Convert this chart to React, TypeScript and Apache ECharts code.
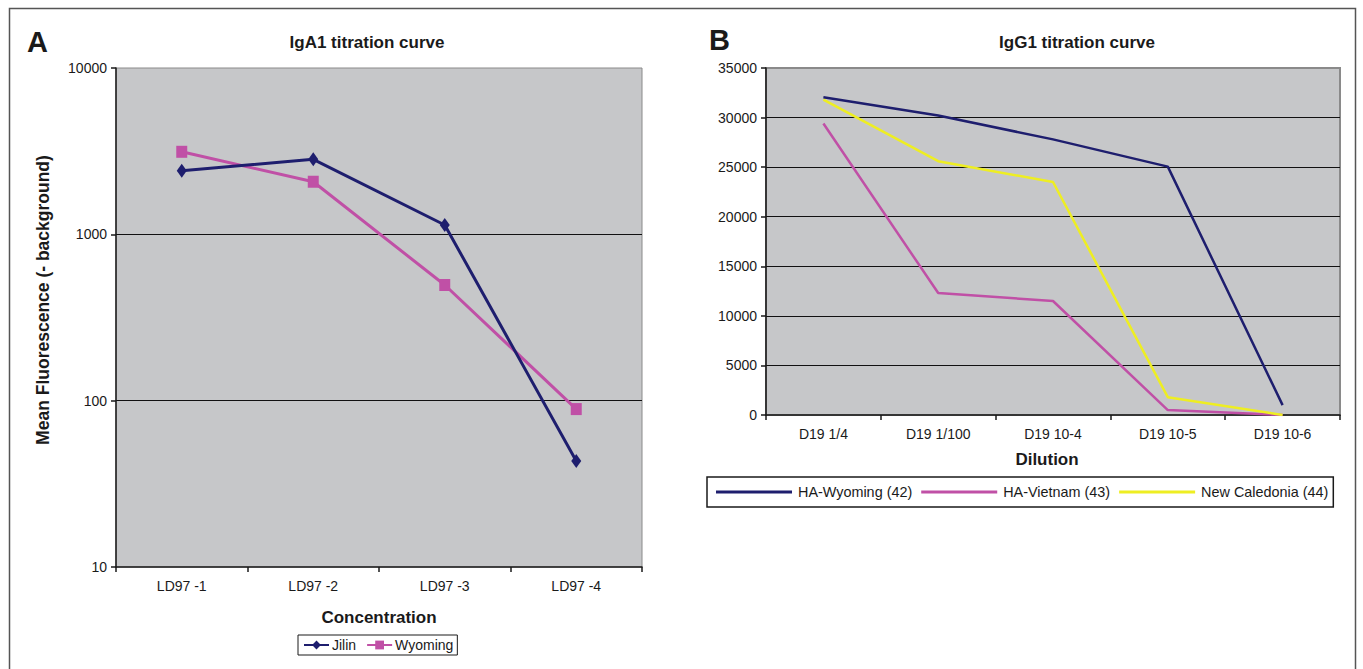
import React, { useEffect, useRef } from "react";
import * as echarts from "echarts";

const categoriesA = ["LD97 -1", "LD97 -2", "LD97 -3", "LD97 -4"];
const jilin = [2410, 2825, 1138, 43.4];
const wyomingA = [3135, 2071, 496, 89];
const yTicksA = [10, 100, 1000, 10000];

const categoriesB = ["D19 1/4", "D19 1/100", "D19 10-4", "D19 10-5", "D19 10-6"];
const haWyoming = [32050, 30200, 27800, 25050, 1000];
const haVietnam = [29400, 12300, 11500, 500, 0];
const newCaledonia = [31800, 25600, 23500, 1800, 0];
const yTicksB = [0, 5000, 10000, 15000, 20000, 25000, 30000, 35000];

const FONT = "'Liberation Sans', Arial, sans-serif";
const NAVY = "#1e1e6e";
const PINK = "#c050a6";
const YELLOW = "#eeee22";
const TXT = "#1a1a1a";

export default function App() {
  const ref = useRef<HTMLDivElement>(null);
  useEffect(() => {
    document.body.style.margin = "0";
    document.body.style.overflow = "hidden";
    const chart = echarts.init(ref.current!, undefined, { renderer: "svg" });
    const axisLine = { show: true, lineStyle: { color: TXT, width: 1.5 } };
    const axisTick = { show: true, length: 5, lineStyle: { color: TXT, width: 1.5 } };
    const label = { color: TXT, fontSize: 14, fontFamily: FONT };
    chart.setOption({
      animation: false,
      textStyle: { fontFamily: FONT },
      grid: [
        { left: 116, top: 68, width: 526, height: 499, show: true, backgroundColor: "#c6c7c9", borderColor: "#8a8a8a", borderWidth: 1 },
        { left: 766, top: 68, width: 574, height: 347, show: true, backgroundColor: "#c6c7c9", borderColor: "#8a8a8a", borderWidth: 2 },
      ],
      xAxis: [
        {
          type: "category", gridIndex: 0, data: categoriesA, boundaryGap: true,
          axisLine, axisTick: { ...axisTick, interval: 0 },
          axisLabel: { ...label, margin: 12, interval: 0 },
          name: "Concentration", nameLocation: "middle", nameGap: 42,
          nameTextStyle: { fontSize: 17, fontWeight: "bold", color: TXT, fontFamily: FONT },
        },
        {
          type: "category", gridIndex: 1, data: categoriesB, boundaryGap: true,
          axisLine, axisTick: { ...axisTick, interval: 0 },
          axisLabel: { ...label, margin: 12, interval: 0 },
          name: "Dilution", nameLocation: "middle", nameGap: 36,
          nameTextStyle: { fontSize: 17, fontWeight: "bold", color: TXT, fontFamily: FONT, padding: [0, 12, 0, 0] },
        },
      ],
      yAxis: [
        {
          type: "log", gridIndex: 0, logBase: 10, min: yTicksA[0], max: yTicksA[yTicksA.length - 1],
          axisLine, axisTick,
          axisLabel: { ...label, margin: 9, formatter: (v: number) => String(Math.round(v)) },
          splitLine: { show: true, showMaxLine: false, showMinLine: false, lineStyle: { color: "#111", width: 1 } },
          minorTick: { show: false },
        },
        {
          type: "value", gridIndex: 1, min: yTicksB[0], max: yTicksB[yTicksB.length - 1], interval: 5000,
          axisLine, axisTick,
          axisLabel: { ...label, margin: 9, formatter: (v: number) => String(Math.round(v)) },
          splitLine: { show: true, showMaxLine: false, showMinLine: false, lineStyle: { color: "#111", width: 1 } },
        },
      ],
      legend: [
        {
          data: ["Jilin", "Wyoming"], left: 298, top: 635, orient: "horizontal",
          padding: [3, 4, 3, 5], itemGap: 10, itemWidth: 25, itemHeight: 11,
          borderColor: TXT, borderWidth: 1, backgroundColor: "#fff",
          textStyle: { fontSize: 14, color: TXT, fontFamily: FONT, padding: [0, 0, 0, -2] },
        },
        {
          data: ["HA-Wyoming (42)", "HA-Vietnam (43)", "New Caledonia (44)"], left: 707, top: 477, orient: "horizontal",
          icon: "rect", padding: [8, 5, 8, 9], itemGap: 9, itemWidth: 76, itemHeight: 3,
          borderColor: TXT, borderWidth: 1.5, backgroundColor: "#fff",
          textStyle: { fontSize: 14.4, color: TXT, fontFamily: FONT, padding: [0, 0, 0, 1] },
        },
      ],
      series: [
        {
          name: "Jilin", type: "line", xAxisIndex: 0, yAxisIndex: 0, data: jilin,
          symbol: "diamond", symbolSize: [10, 14], lineStyle: { width: 3, color: NAVY },
          itemStyle: { color: NAVY }, z: 3,
        },
        {
          name: "Wyoming", type: "line", xAxisIndex: 0, yAxisIndex: 0, data: wyomingA,
          symbol: "rect", symbolSize: [11, 12], lineStyle: { width: 3, color: PINK },
          itemStyle: { color: PINK }, z: 2,
        },
        {
          name: "HA-Wyoming (42)", type: "line", xAxisIndex: 1, yAxisIndex: 1, data: haWyoming,
          symbol: "none", lineStyle: { width: 2.5, color: NAVY }, itemStyle: { color: NAVY }, z: 4,
        },
        {
          name: "HA-Vietnam (43)", type: "line", xAxisIndex: 1, yAxisIndex: 1, data: haVietnam,
          symbol: "none", lineStyle: { width: 2.5, color: PINK }, itemStyle: { color: PINK }, z: 2,
        },
        {
          name: "New Caledonia (44)", type: "line", xAxisIndex: 1, yAxisIndex: 1, data: newCaledonia,
          symbol: "none", lineStyle: { width: 2.5, color: YELLOW }, itemStyle: { color: YELLOW }, z: 3,
        },
      ],
      graphic: [
        { type: "rect", shape: { x: 9.5, y: 8.5, width: 1346, height: 700 }, style: { fill: "none", stroke: "#555", lineWidth: 1.5 }, silent: true, z: -10 },
        { type: "text", x: 27, y: 42, style: { text: "A", fontSize: 29, fontWeight: "bold", fill: TXT, fontFamily: FONT, verticalAlign: "middle", align: "left" } },
        { type: "text", x: 709, y: 40, style: { text: "B", fontSize: 29, fontWeight: "bold", fill: TXT, fontFamily: FONT, verticalAlign: "middle", align: "left" } },
        { type: "text", x: 367, y: 42, style: { text: "IgA1 titration curve", fontSize: 17, fontWeight: "bold", fill: TXT, fontFamily: FONT, verticalAlign: "middle", align: "center" } },
        { type: "text", x: 1077, y: 42, style: { text: "IgG1 titration curve", fontSize: 17, fontWeight: "bold", fill: TXT, fontFamily: FONT, verticalAlign: "middle", align: "center" } },
        { type: "text", x: 43, y: 300, rotation: Math.PI / 2, style: { text: "Mean Fluorescence (- background)", fontSize: 17.5, fontWeight: "bold", fill: TXT, fontFamily: FONT, verticalAlign: "middle", align: "center" } },
      ],
    });
    return () => chart.dispose();
  }, []);
  return <div ref={ref} style={{ width: 1363, height: 669 }} />;
}
